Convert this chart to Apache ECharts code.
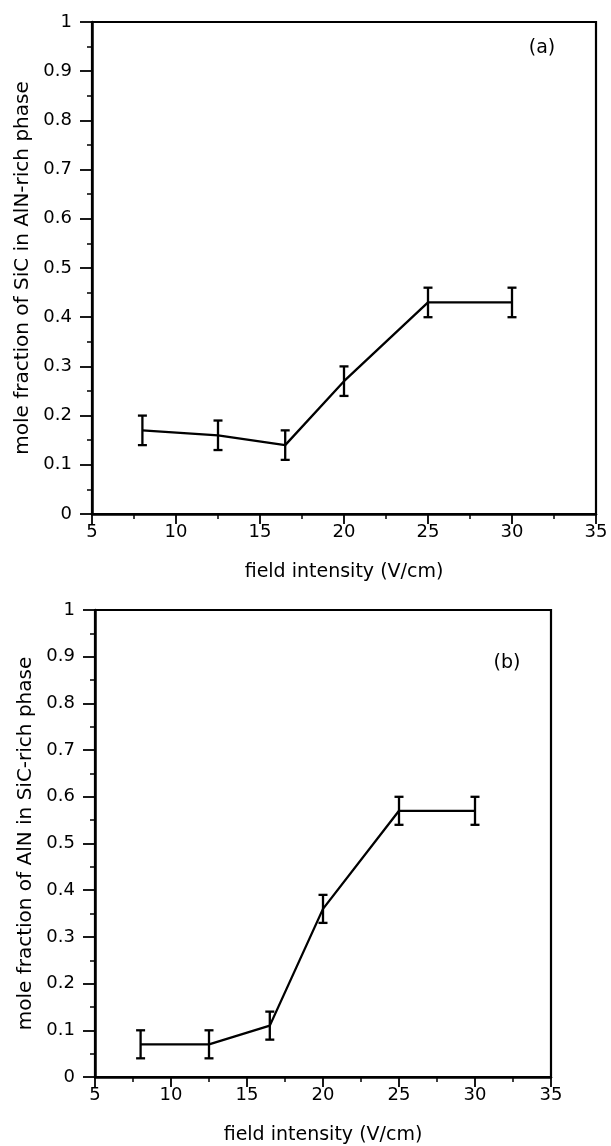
<!DOCTYPE html>
<html><head><meta charset="utf-8">
<script src="https://cdn.jsdelivr.net/npm/echarts@6/dist/echarts.min.js"></script>
<style>html,body{margin:0;padding:0;background:#fff}#c{width:611px;height:1146px}</style>
</head><body><div id="c"></div>
<script>
const fieldX = [8, 12.5, 16.5, 20, 25, 30];
const sicInAlnValues = [0.17, 0.16, 0.14, 0.27, 0.43, 0.43];
const sicInAlnErrors = [0.03, 0.03, 0.03, 0.03, 0.03, 0.03];
const alnInSicValues = [0.07, 0.07, 0.11, 0.36, 0.57, 0.57];
const alnInSicErrors = [0.03, 0.03, 0.03, 0.03, 0.03, 0.03];
const yNameA = 'mole fraction of SiC in AlN-rich phase';
const yNameB = 'mole fraction of AlN in SiC-rich phase';
const xName = 'field intensity (V/cm)';
const panelLabels = ['(a)', '(b)'];

const FONT = '"DejaVu Sans", "Liberation Sans", Arial, sans-serif';
const chart = echarts.init(document.getElementById('c'), null, {renderer: 'canvas'});

function xAxis(gi) {
  return {
    type: 'value', gridIndex: gi, min: 5, max: 35, interval: 5,
    name: xName, nameLocation: 'middle', nameGap: 49,
    nameTextStyle: {color: '#000', fontSize: 19, fontFamily: FONT},
    axisLine: {show: true, lineStyle: {color: '#000', width: 2.5}},
    axisTick: {show: true, inside: false, length: 10, lineStyle: {color: '#000', width: 1.8}},
    minorTick: {show: true, splitNumber: 2, length: 5, lineStyle: {color: '#000', width: 1.5}},
    axisLabel: {color: '#000', fontSize: 18, fontFamily: FONT, margin: 9},
    splitLine: {show: false}
  };
}
function yAxis(gi, name) {
  return {
    type: 'value', gridIndex: gi, min: 0, max: 1, interval: 0.1,
    name: name, nameLocation: 'middle', nameGap: 59, nameRotate: 90,
    nameTextStyle: {color: '#000', fontSize: 20, fontFamily: FONT},
    axisLine: {show: true, lineStyle: {color: '#000', width: 2.5}},
    axisTick: {show: true, inside: false, length: 12, lineStyle: {color: '#000', width: 1.8}},
    minorTick: {show: true, splitNumber: 2, length: 5, lineStyle: {color: '#000', width: 1.5}},
    axisLabel: {color: '#000', fontSize: 18, fontFamily: FONT, margin: 20,
      formatter: v => (Math.round(v * 10) / 10).toString()},
    splitLine: {show: false}
  };
}
function errData(vals, errs) {
  return fieldX.map((x, i) => [x, vals[i] - errs[i], vals[i] + errs[i]]);
}
function errorRender(params, api) {
  const x = api.value(0);
  const lo = api.coord([x, api.value(1)]);
  const hi = api.coord([x, api.value(2)]);
  const w = 4.5;
  const st = {stroke: '#000', lineWidth: 2.3};
  return {type: 'group', children: [
    {type: 'line', shape: {x1: lo[0], y1: lo[1], x2: hi[0], y2: hi[1]}, style: st},
    {type: 'line', shape: {x1: lo[0] - w, y1: lo[1], x2: lo[0] + w, y2: lo[1]}, style: st},
    {type: 'line', shape: {x1: hi[0] - w, y1: hi[1], x2: hi[0] + w, y2: hi[1]}, style: st}
  ]};
}
function lineSeries(gi, vals) {
  return {type: 'line', xAxisIndex: gi, yAxisIndex: gi, data: fieldX.map((x, i) => [x, vals[i]]),
    symbol: 'none', lineStyle: {color: '#000', width: 2.3}, z: 3, animation: false};
}
function errSeries(gi, vals, errs) {
  return {type: 'custom', xAxisIndex: gi, yAxisIndex: gi, data: errData(vals, errs),
    renderItem: errorRender, z: 4, animation: false, encode: {x: 0, y: [1, 2]}};
}

chart.setOption({
  backgroundColor: '#fff',
  animation: false,
  grid: [
    {left: 92, top: 22, width: 504, height: 492, show: true, borderColor: '#000', borderWidth: 2.2, backgroundColor: 'transparent'},
    {left: 95, top: 610, width: 456, height: 468, show: true, borderColor: '#000', borderWidth: 2.2, backgroundColor: 'transparent'}
  ],
  xAxis: [xAxis(0), xAxis(1)],
  yAxis: [yAxis(0, yNameA), yAxis(1, yNameB)],
  series: [
    lineSeries(0, sicInAlnValues), errSeries(0, sicInAlnValues, sicInAlnErrors),
    lineSeries(1, alnInSicValues), errSeries(1, alnInSicValues, alnInSicErrors)
  ],
  graphic: [
    {type: 'text', x: 542, y: 48, style: {text: panelLabels[0], fill: '#000', font: '19px ' + FONT, align: 'center', verticalAlign: 'middle'}},
    {type: 'text', x: 507, y: 663, style: {text: panelLabels[1], fill: '#000', font: '19px ' + FONT, align: 'center', verticalAlign: 'middle'}}
  ]
});
</script></body></html>
